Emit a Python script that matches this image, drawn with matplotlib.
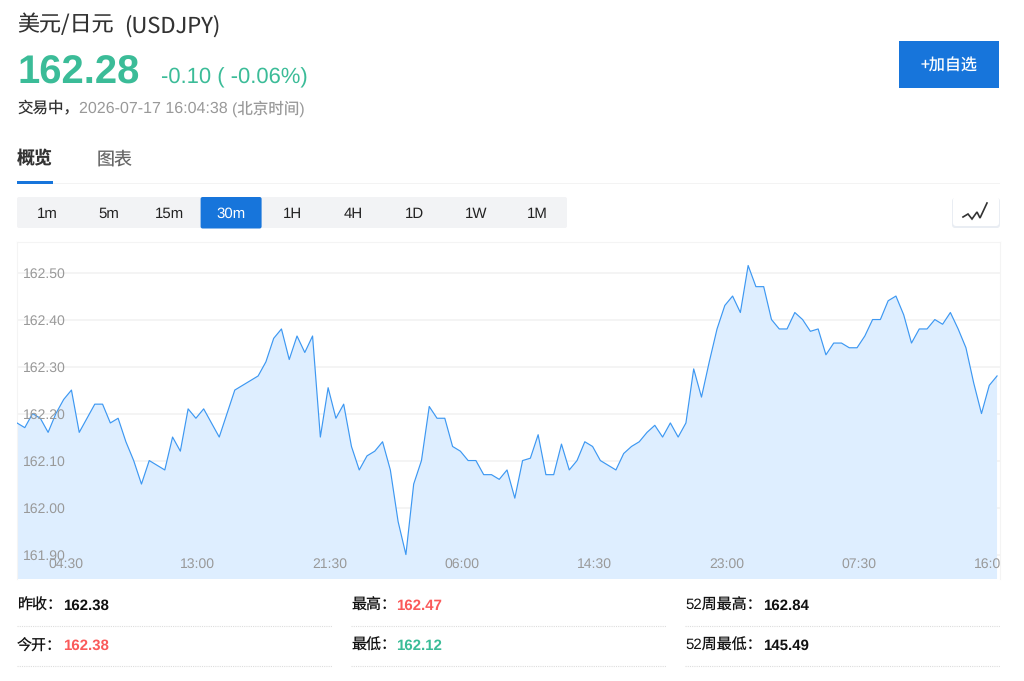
import numpy as np
import matplotlib
matplotlib.use("Agg")
import matplotlib.pyplot as plt
from matplotlib.patches import FancyBboxPatch, Rectangle
from matplotlib.transforms import ScaledTranslation

# Quote values, 30 minute bars ######################################
prices = [162.18, 162.17, 162.20, 162.19, 162.16, 162.20, 162.23, 162.25, 162.16, 162.19,
          162.22, 162.22, 162.18, 162.19, 162.14, 162.10, 162.05, 162.10, 162.09, 162.08,
          162.15, 162.12, 162.21, 162.19, 162.21, 162.18, 162.15, 162.20, 162.25, 162.26,
          162.27, 162.28, 162.31, 162.36, 162.38, 162.315, 162.365, 162.33, 162.365, 162.15,
          162.255, 162.19, 162.22, 162.13, 162.08, 162.11, 162.12, 162.14, 162.08, 161.97,
          161.90, 162.05, 162.10, 162.215, 162.19, 162.19, 162.13, 162.12, 162.10, 162.10,
          162.07, 162.07, 162.06, 162.08, 162.02, 162.10, 162.105, 162.155, 162.07, 162.07,
          162.135, 162.08, 162.10, 162.14, 162.13, 162.10, 162.09, 162.08, 162.115, 162.13,
          162.14, 162.16, 162.175, 162.15, 162.18, 162.15, 162.18, 162.295, 162.235, 162.31,
          162.38, 162.43, 162.45, 162.415, 162.515, 162.47, 162.47, 162.40, 162.38, 162.38,
          162.415, 162.40, 162.375, 162.38, 162.325, 162.35, 162.35, 162.34, 162.34, 162.365,
          162.40, 162.40, 162.44, 162.45, 162.41, 162.35, 162.38, 162.38, 162.40, 162.39,
          162.415, 162.38, 162.34, 162.265, 162.20, 162.26, 162.28]

y_ticks = [161.90, 162.00, 162.10, 162.20, 162.30, 162.40, 162.50]
time_idx = [6, 23, 40, 57, 74, 91, 108, 125]
time_labels = ["04:30", "13:00", "21:30", "06:00", "14:30", "23:00", "07:30", "16:00"]

periods = ["1m", "5m", "15m", "30m", "1H", "4H", "1D", "1W", "1M"]
active_period = "30m"

stats_left = [("昨收：", "162.38", "black"), ("今开：", "162.38", "red")]
stats_mid = [("最高：", "162.47", "red"), ("最低：", "162.12", "green")]
stats_right = [("52周最高：", "162.84", "black"), ("52周最低：", "145.49", "black")]

# Colors and fonts ##################################################
BLUE = "#1775db"
GREEN = "#3bbc98"
RED = "#fa5a5a"
LINE = "#3d98f2"
FILL = "#deeeff"
GREY = "#999999"
FONTS = ["Liberation Sans", "Noto Sans CJK SC", "DejaVu Sans"]
CJK_FIRST = ["Noto Sans CJK SC", "Liberation Sans", "DejaVu Sans"]
plt.rcParams["font.family"] = FONTS
plt.rcParams["text.hinting"] = "no_hinting"
plt.rcParams["text.hinting_factor"] = 1

W, H = 1024, 681
fig = plt.figure(figsize=(W / 100, H / 100), dpi=100, facecolor="white")

# page layer works in pixels, origin top left
page = fig.add_axes([0, 0, 1, 1], zorder=1)
page.set_xlim(0, W)
page.set_ylim(H, 0)
page.axis("off")


def px(size):
    return size * 0.72


def label(x, y, s, size, color="#333333", ha="left", weight="normal", family=FONTS, va="center"):
    page.text(x, y, s, fontsize=px(size), color=color, ha=ha, va=va,
              fontweight=weight, family=family)


def box(x0, y0, x1, y1, color, radius=0.0, **kw):
    if radius > 0:
        p = FancyBboxPatch((x0 + radius, y0 + radius), x1 - x0 - 2 * radius, y1 - y0 - 2 * radius,
                           boxstyle="round,pad=%f,rounding_size=%f" % (radius, radius),
                           fc=color, ec="none", **kw)
    else:
        p = Rectangle((x0, y0), x1 - x0, y1 - y0, fc=color, ec="none", **kw)
    page.add_patch(p)


# Header ############################################################
label(17, 25, "美元/日元", 22, "#333333", family=CJK_FIRST)
label(124, 26, "(USDJPY)", 22, "#333333", family=CJK_FIRST)
label(17, 73, "162.28", 40, GREEN, weight="bold")
label(161, 78, "-0.10 ( -0.06%)", 22, GREEN)
label(17, 108.5, "交易中，", 15.5, "#333333", family=CJK_FIRST)
label(79, 109, "2026-07-17 16:04:38", 15.5, GREY)
label(232, 109, "(北京时间)", 15.5, GREY)

box(899, 41, 999, 88, BLUE)
label(949, 65.5, "+加自选", 16, "white", ha="center", family=CJK_FIRST)

# Tabs ##############################################################
label(17, 159, "概览", 18, "#333333", weight="bold", family=CJK_FIRST)
label(97, 159, "图表", 18, "#666666", family=CJK_FIRST)
box(17, 183, 1000, 184, "#f3f3f3")
box(17, 180.5, 53, 183.5, BLUE)

# Period selector ###################################################
box(17, 197, 567, 228, "#f2f3f5", radius=2)
for i, p in enumerate(periods):
    cx = 47.5 + i * 61.2
    color = "#222222"
    if p == active_period:
        box(cx - 30.5, 197, cx + 30.5, 228.5, BLUE, radius=2)
        color = "white"
    label(cx, 218, p, 15, color, ha="center", va="baseline")

# Line/candle toggle ################################################
box(952, 198, 1000, 228, "#e9edf3", radius=3)
box(953, 197, 999, 226, "white", radius=3)
page.plot([963, 968, 972, 977, 980, 987], [217, 214, 219, 212, 218, 203],
          color="#333333", lw=1.2, solid_joinstyle="miter")

# Quote chart #######################################################
ax = fig.add_axes([17 / W, 1 - 579 / H, 983 / W, 337 / H], zorder=2)
ax.patch.set_alpha(0)
idx = np.arange(len(prices))
ax.hlines(y_ticks, 0, 126.38, color="#f1f1f1", lw=1.1, zorder=1)
ax.fill_between(idx, prices, 161.0, color=FILL, lw=0, zorder=2)
ax.plot(idx, prices, color=LINE, lw=0.85, zorder=3)
ax.set_xlim(0, 126.38)
ax.set_ylim(161.848, 162.565)

ax.set_yticks(y_ticks)
ax.set_yticklabels(["%.2f" % v for v in y_ticks])
ax.set_xticks(time_idx)
ax.set_xticklabels(time_labels)
ax.tick_params(axis="y", length=0, pad=-4.5, labelsize=px(13.5), labelcolor=GREY)
ax.tick_params(axis="x", length=0, pad=-15.0, labelsize=px(13.5), labelcolor=GREY)
ax.xaxis.set_zorder(5)
ax.yaxis.set_zorder(5)
for t in ax.get_yticklabels():
    t.set_ha("left")
for t in ax.get_xticklabels():
    t.set_transform(t.get_transform() + ScaledTranslation(2.0 / 100, 0, fig.dpi_scale_trans))
    t.set_clip_on(True)
    t.set_clip_box(ax.bbox)
for side in ["top", "left", "right"]:
    ax.spines[side].set_color("#f4f4f4")
    ax.spines[side].set_linewidth(0.8)
ax.spines["bottom"].set_visible(False)

# Stats table #######################################################
value_colors = {"black": "#111111", "red": RED, "green": GREEN}
columns = [(17, 332, 63.5, stats_left), (351, 666, 396.5, stats_mid), (685, 1000, 763.5, stats_right)]
row_y = [605, 645]
rule_y = [625.5, 665.5]
for x0, x1, vx, rows in columns:
    for (name, val, c), y, ry in zip(rows, row_y, rule_y):
        label(x0, y + 1, name, 15, "#111111", family=["Liberation Sans", "Noto Sans CJK SC"])
        label(vx, y + 0.5, val, 15, value_colors[c], weight="bold")
        page.plot([x0, x1], [ry, ry], color="#dddddd", lw=0.8, ls=(0, (1, 1)))

fig.savefig("out.png", dpi=100)
